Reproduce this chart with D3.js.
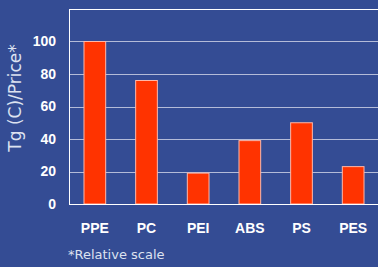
<!DOCTYPE html>
<html><head><meta charset="utf-8">
<script src="https://cdn.jsdelivr.net/npm/d3@7"></script>
<style>html,body{margin:0;padding:0;background:#344c94;overflow:hidden}</style>
</head><body>
<svg id="c" width="378" height="267"></svg>
<script>
const categories = ["PPE","PC","PEI","ABS","PS","PES"];
const values = [100, 76, 19, 39, 50, 23];
const yTicks = [0, 20, 40, 60, 80, 100];

(function(){
const svg = d3.select("#c");
svg.append("rect").attr("width",378).attr("height",267).attr("fill","#344c94");
const mL = 69, mT = 9, mR = 379, mB = 204;
const x = d3.scaleBand().domain(categories).range([mL, mR]).paddingInner(0.58).paddingOuter(0.29);
const y = d3.scaleLinear().domain([0,120]).range([mB, mT]);

// gridlines
svg.append("g").selectAll("line").data(yTicks.filter(d=>d>0)).join("line")
  .attr("x1", mL).attr("x2", 378)
  .attr("y1", d=>Math.round(y(d))+0.5).attr("y2", d=>Math.round(y(d))+0.5)
  .attr("stroke","#b4bbd8").attr("stroke-width",1.2);
// frame
svg.append("line").attr("x1",mL).attr("x2",378).attr("y1",mT+0.5).attr("y2",mT+0.5).attr("stroke","#fff").attr("stroke-width",1);
svg.append("line").attr("x1",mL+0.5).attr("x2",mL+0.5).attr("y1",mT).attr("y2",mB+1).attr("stroke","#fff").attr("stroke-width",1);

// bars
svg.append("g").selectAll("rect").data(categories).join("rect")
  .attr("x", d=>x(d)).attr("width", x.bandwidth())
  .attr("y", (d,i)=>y(values[i])).attr("height", (d,i)=>mB - y(values[i]))
  .attr("fill","#ff3300").attr("stroke","#ffb8a8").attr("stroke-width",1);

svg.append("line").attr("x1",mL).attr("x2",378).attr("y1",mB+0.5).attr("y2",mB+0.5).attr("stroke","#fff").attr("stroke-width",1.2);

// y axis
const ya = svg.append("g").attr("transform",`translate(${mL},0)`)
  .call(d3.axisLeft(y).tickValues(yTicks).tickSize(0).tickPadding(13));
ya.select(".domain").remove();
ya.selectAll("text").attr("fill","#fff").attr("font-family","Liberation Sans, Arial, sans-serif")
  .attr("font-weight","bold").attr("font-size","14px");

// x axis
const xa = svg.append("g").attr("transform",`translate(0,${mB})`)
  .call(d3.axisBottom(x).tickSize(0).tickPadding(19));
xa.select(".domain").remove();
xa.selectAll("text").attr("fill","#fff").attr("font-family","Liberation Sans, Arial, sans-serif")
  .attr("font-weight","bold").attr("font-size","14px");

// y title
svg.append("text").attr("transform","translate(21,98) rotate(-90)")
  .attr("text-anchor","middle").attr("fill","#dde2f0")
  .attr("font-family","DejaVu Sans, Verdana, sans-serif").attr("font-size","17px")
  .text("Tg (C)/Price*");

// footnote
svg.append("text").attr("x",68).attr("y",259).attr("fill","#dde2f0")
  .attr("font-family","DejaVu Sans, Verdana, sans-serif").attr("font-size","13px")
  .text("*Relative scale");
})();
</script>
</body></html>
